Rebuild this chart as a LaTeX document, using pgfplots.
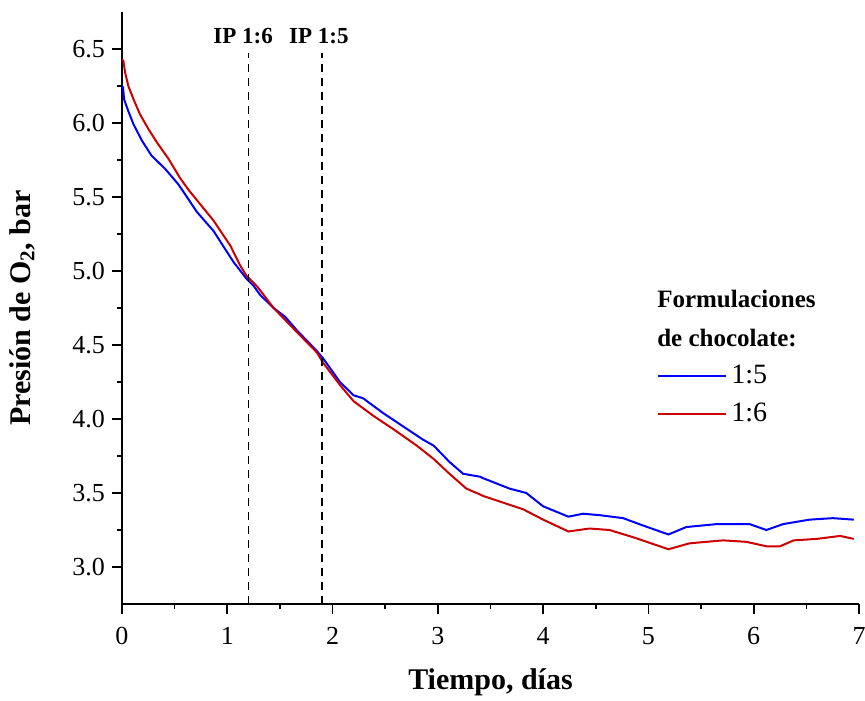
\documentclass[border=0pt]{standalone}
\usepackage{fontspec}
\setmainfont{Liberation Serif}
\usepackage{pgfplots}
\pgfplotsset{compat=1.18}
\definecolor{myblue}{RGB}{0,0,255}
\definecolor{myred}{RGB}{204,0,0}

\begin{document}
\begin{tikzpicture}
\useasboundingbox (-61pt,-48pt) rectangle (371.5pt,302pt);
\begin{axis}[
  at={(0,0)}, anchor=south west,
  scale only axis, width=368.5pt, height=296pt,
  xmin=0, xmax=7, ymin=2.75, ymax=6.75,
  axis x line=bottom, axis y line=left,
  axis line style={-, line width=1pt},
  xtick={0,1,2,3,4,5,6,7}, minor x tick num=1,
  ytick={3.0,3.5,4.0,4.5,5.0,5.5,6.0,6.5}, minor y tick num=1,
  tick align=outside, major tick length=5pt, minor tick length=2.5pt,
  tick style={line width=0.8pt, black},
  /pgf/number format/assume math mode=true,
  yticklabel style={/pgf/number format/.cd, fixed, fixed zerofill, precision=1},
  ticklabel style={font=\fontsize{13}{15}\selectfont},
  xticklabel style={yshift=-3pt},
  xlabel={Tiempo, días},
  ylabel={Presión de O\textsubscript{2}, bar},
  label style={font=\fontsize{15}{17}\selectfont\bfseries},
  xlabel style={at={(axis description cs:0.5,-0.132)}, anchor=center},
  ylabel style={at={(axis description cs:-0.1357,0.5)}, anchor=center},
  legend style={at={(axis cs:5.08,4.395)}, anchor=north west, draw=none, fill=none,
    inner sep=0pt, row sep=4.5pt, font=\fontsize{14}{16}\selectfont},
  legend cell align=left,
  legend image code/.code={\draw[#1] (0pt,0pt) -- (34pt,0pt);},
]
\addplot[myblue, line width=1pt] coordinates {
(0.00,6.25) (0.01,6.24) (0.02,6.16) (0.06,6.08) (0.11,5.99) (0.19,5.88)
(0.28,5.78) (0.41,5.69) (0.53,5.59) (0.57,5.55) (0.71,5.40) (0.87,5.27)
(0.96,5.17) (1.06,5.06) (1.18,4.95) (1.25,4.90) (1.31,4.84) (1.44,4.75)
(1.55,4.69) (1.66,4.60) (1.85,4.46) (1.91,4.41) (2.07,4.25) (2.20,4.16)
(2.29,4.14) (2.48,4.04) (2.67,3.95) (2.86,3.86) (2.96,3.82) (3.11,3.71)
(3.24,3.63) (3.40,3.61) (3.43,3.60) (3.68,3.53) (3.84,3.50) (4.00,3.41)
(4.24,3.34) (4.38,3.36) (4.54,3.35) (4.76,3.33) (4.95,3.28) (5.19,3.22)
(5.36,3.27) (5.65,3.29) (5.96,3.29) (6.12,3.25) (6.28,3.29) (6.53,3.32)
(6.75,3.33) (6.95,3.32)
};
\addlegendentry{1:5}
\addplot[myred, line width=1pt] coordinates {
(0.00,6.43) (0.013,6.42) (0.03,6.34) (0.06,6.25) (0.11,6.16) (0.17,6.06)
(0.25,5.96) (0.34,5.86) (0.44,5.76) (0.55,5.63) (0.63,5.55) (0.71,5.48)
(0.87,5.34) (1.03,5.17) (1.12,5.04) (1.18,4.97) (1.29,4.89) (1.44,4.75)
(1.63,4.61) (1.85,4.45) (1.91,4.38) (2.07,4.23) (2.20,4.12) (2.39,4.02)
(2.58,3.93) (2.80,3.82) (2.96,3.73) (3.11,3.63) (3.27,3.53) (3.40,3.49)
(3.43,3.48) (3.81,3.39) (4.00,3.32) (4.24,3.24) (4.44,3.26) (4.63,3.25)
(4.86,3.20) (5.19,3.12) (5.39,3.16) (5.71,3.18) (5.93,3.17) (6.12,3.14)
(6.25,3.14) (6.38,3.18) (6.60,3.19) (6.82,3.21) (6.95,3.19)
};
\addlegendentry{1:6}
\addplot[black, line width=0.8pt, dash pattern=on 4pt off 3pt, forget plot] coordinates {(1.2,2.75) (1.2,6.47)};
\addplot[black, line width=0.8pt, dash pattern=on 4pt off 3pt, forget plot] coordinates {(1.9,2.75) (1.9,6.47)};
\node[anchor=base, font=\fontsize{11.5}{13}\selectfont\bfseries] at (axis cs:1.15,6.534) {IP 1:6};
\node[anchor=base, font=\fontsize{11.5}{13}\selectfont\bfseries] at (axis cs:1.87,6.534) {IP 1:5};
\node[anchor=base west, inner sep=0pt, font=\fontsize{12.5}{14}\selectfont\bfseries] at (axis cs:5.08,4.75) {Formulaciones};
\node[anchor=base west, inner sep=0pt, font=\fontsize{12.5}{14}\selectfont\bfseries] at (axis cs:5.08,4.493) {de chocolate:};
\end{axis}
\end{tikzpicture}
\end{document}
